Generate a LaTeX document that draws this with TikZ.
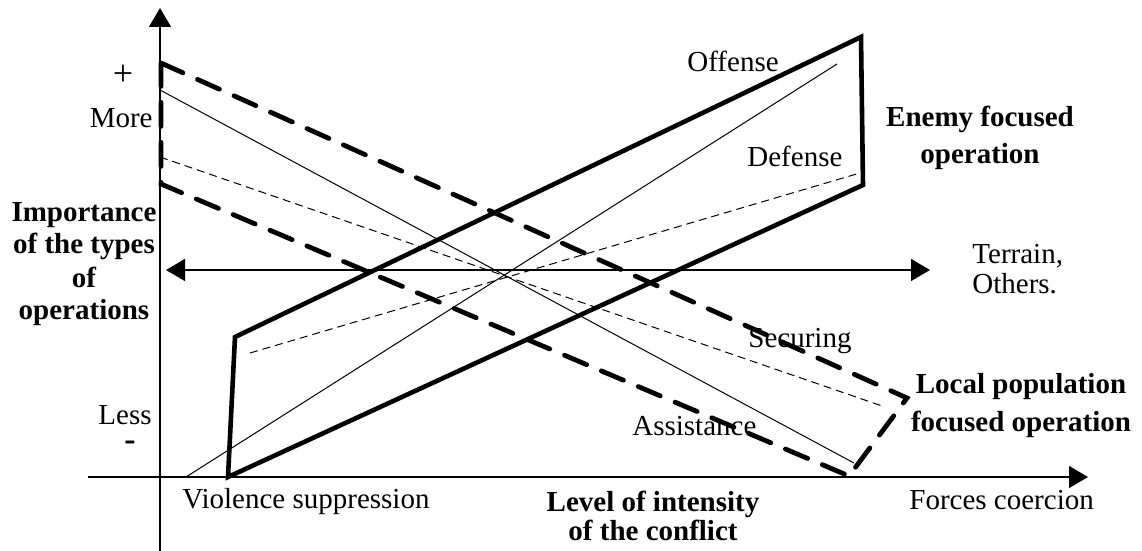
\documentclass[tikz,border=0pt]{standalone}
\usepackage{fontspec}
\setmainfont{Liberation Serif}
\usetikzlibrary{arrows.meta}

\begin{document}
\begin{tikzpicture}[x=0.5pt,y=-0.5pt,
  >={Triangle[length=9.5pt,width=11pt]},
  lbl/.style={inner sep=0pt,font={\fontsize{14.5}{17}\selectfont}},
  blbl/.style={inner sep=0pt,align=center,font={\bfseries\fontsize{14.5}{17}\selectfont}},
  axis/.style={line width=0.6pt,->},
  bound/.style={line width=2.3pt,line join=miter},
  bounddash/.style={line width=2.4pt,line cap=round,dash pattern=on 12pt off 8pt},
  kind/.style={line width=0.5pt},
  kinddash/.style={line width=0.5pt,dash pattern=on 4pt off 2.5pt}]
\useasboundingbox (0,0) rectangle (1142,551);

% axes
\coordinate (ybot) at (160,551);
\coordinate (ytop) at (160,8);
\coordinate (xleft) at (88,477);
\coordinate (xright) at (1088,477);
\draw[axis] (ybot) -- (ytop);
\draw[axis] (xleft) -- (xright);

\coordinate (tl) at (166,270);
\coordinate (tr) at (930,270);
\draw[line width=0.6pt,<->] (tl) -- (tr);

% enemy focused
\coordinate (E1) at (228,477);
\coordinate (E2) at (235,337);
\coordinate (E3) at (861,37);
\coordinate (E4) at (863,185);
\draw[bound] (E1) -- (E2) -- (E3) -- (E4) -- cycle;
\draw[kind] (186,477) -- (837,64);
\draw[kinddash] (250,353) -- (860,173);

% local population focused
\coordinate (P1) at (161,63);
\coordinate (P2) at (907,398);
\coordinate (P3) at (849,476);
\coordinate (P4) at (161,184);
\draw[bounddash] (P1) -- (P2) -- (P3) -- (P4) -- cycle;
\draw[kind] (160,90) -- (854,463);
\draw[kinddash] (160,157) -- (885,407);

% labels
\node[lbl,font={\fontsize{18}{20}\selectfont}] (plus) at (123,75) {+};
\node[lbl,anchor=base east] (more) at (153,128) {More};
\node[lbl,anchor=base east] (less) at (152,424) {Less};
\node[lbl,font={\bfseries\fontsize{17}{20}\selectfont}] (minus) at (130,446) {-};
\node[blbl,anchor=base,font={\bfseries\fontsize{14.5}{16.5}\selectfont}] (imp) at (84,320) {Importance\\of the types\\of\\operations};

\node[lbl,anchor=base west] (off) at (687,72) {Offense};
\node[lbl,anchor=base west] (def) at (747,167) {Defense};
\node[blbl,anchor=base,font={\bfseries\fontsize{14.5}{18.5}\selectfont}] (enemy) at (980,163) {Enemy focused\\operation};
\node[lbl,anchor=base west,align=left,font={\fontsize{14.5}{15}\selectfont}] (terrain) at (972,293) {Terrain,\\Others.};

\node[lbl,anchor=base west] (sec) at (748,347) {Securing};
\node[lbl,anchor=base west] (ass) at (632,435) {Assistance};
\node[blbl,anchor=base,font={\bfseries\fontsize{14.5}{19}\selectfont}] (local) at (1021,431) {Local population\\focused operation};

\node[lbl,anchor=base west] (viol) at (182,508) {Violence suppression};
\node[blbl,anchor=base,font={\bfseries\fontsize{14.5}{14.5}\selectfont}] (level) at (653,540) {Level of intensity\\of the conflict};
\node[lbl,anchor=base west] (force) at (909,509) {Forces coercion};

\end{tikzpicture}
\end{document}
